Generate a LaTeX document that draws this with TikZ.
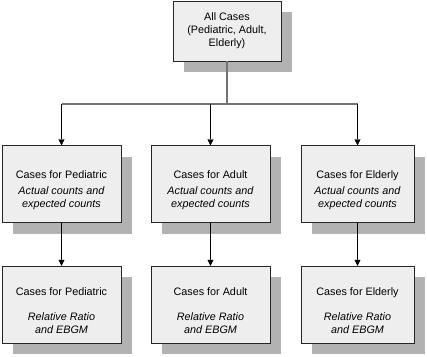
\documentclass[tikz,border=0pt]{standalone}
\usepackage{fontspec}
\setmainfont{Liberation Sans}
\usetikzlibrary{arrows.meta,shadows}
\definecolor{boxfill}{HTML}{EEEEEE}
\definecolor{shadowgray}{HTML}{B2B2B2}
\newcommand{\topgap}{\rule{0pt}{20pt}}
\begin{document}
\begin{tikzpicture}[x=1pt, y=1pt,
  every node/.style={font=\fontsize{10.8}{12.8}\selectfont},
  casebox/.style={draw=black!85, fill=boxfill, align=center, inner sep=0pt,
    minimum width=119pt, minimum height=77pt,
    drop shadow={shadow xshift=11pt, shadow yshift=-11pt, fill=shadowgray, opacity=1}},
  bus/.style={draw=black!55, line width=1.4pt},
  arr/.style={draw=black, -{Triangle[length=6pt,width=6pt]}}]
  \useasboundingbox (0,0) rectangle (427,-356);
  % top box
  \node[casebox, minimum width=108pt, minimum height=60pt] (all) at (227,-31)
    {All Cases\\(Pediatric, Adult,\\Elderly)};
  % middle row
  \node[casebox] (pedA) at (61.5,-184) {\topgap Cases for Pediatric\\[3pt]\textit{Actual counts and}\\\textit{expected counts}};
  \node[casebox] (adultA) at (210.5,-184) {\topgap Cases for Adult\\[3pt]\textit{Actual counts and}\\\textit{expected counts}};
  \node[casebox, minimum width=113pt] (eldA) at (357.5,-184) {\topgap Cases for Elderly\\[3pt]\textit{Actual counts and}\\\textit{expected counts}};
  % bottom row
  \node[casebox] (pedR) at (61.5,-304.5) {\topgap Cases for Pediatric\\[12pt]\textit{Relative Ratio}\\\textit{and EBGM}};
  \node[casebox] (adultR) at (210.5,-304.5) {\topgap Cases for Adult\\[12pt]\textit{Relative Ratio}\\\textit{and EBGM}};
  \node[casebox, minimum width=113pt] (eldR) at (357.5,-304.5) {\topgap Cases for Elderly\\[12pt]\textit{Relative Ratio}\\\textit{and EBGM}};
  % bus
  \coordinate (busM) at (all |- 0,-104);
  \coordinate (busP) at (pedA |- busM);
  \coordinate (busA) at (adultA |- busM);
  \coordinate (busE) at (eldA |- busM);
  \draw[bus] (all.south) -- (busM);
  \draw[bus] (busP) -- (busE);
  \draw[arr] (busP) -- (pedA.north);
  \draw[arr] (busA) -- (adultA.north);
  \draw[arr] (busE) -- (eldA.north);
  \draw[arr] (pedA) -- (pedR);
  \draw[arr] (adultA) -- (adultR);
  \draw[arr] (eldA) -- (eldR);
\end{tikzpicture}
\end{document}
